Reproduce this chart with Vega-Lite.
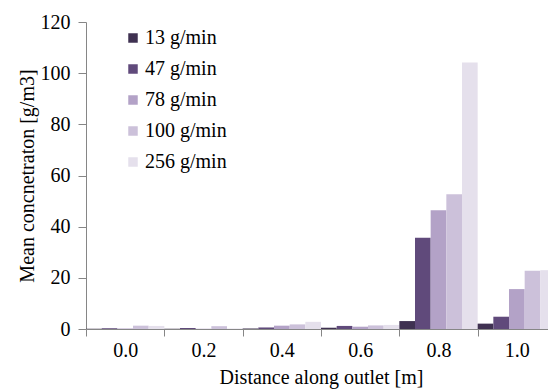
{
  "$schema": "https://vega.github.io/schema/vega-lite/v6.json",
  "autosize": {"type": "none"},
  "width": 462,
  "height": 307,
  "padding": {"left": 86, "top": 22, "right": 0, "bottom": 60},
  "background": "white",
  "config": {
    "view": {"stroke": null},
    "font": "Liberation Serif",
    "axis": {"labelFont": "Liberation Serif", "titleFont": "Liberation Serif", "labelFontSize": 20, "titleFontSize": 20, "labelColor": "#000000", "titleColor": "#000000", "titleFontWeight": "normal", "domainColor": "#868686", "tickColor": "#868686", "grid": false},
    "legend": {"labelFont": "Liberation Serif", "labelFontSize": 20, "labelColor": "#000000"}
  },
  "data": {
    "values": [
      {"distance": "0.0", "rate": "13 g/min", "conc": 0.1},
      {"distance": "0.0", "rate": "47 g/min", "conc": 0.3},
      {"distance": "0.0", "rate": "78 g/min", "conc": 0.2},
      {"distance": "0.0", "rate": "100 g/min", "conc": 1.3},
      {"distance": "0.0", "rate": "256 g/min", "conc": 1.2},
      {"distance": "0.2", "rate": "13 g/min", "conc": 0.1},
      {"distance": "0.2", "rate": "47 g/min", "conc": 0.4},
      {"distance": "0.2", "rate": "78 g/min", "conc": 0.1},
      {"distance": "0.2", "rate": "100 g/min", "conc": 1.1},
      {"distance": "0.2", "rate": "256 g/min", "conc": 0.2},
      {"distance": "0.4", "rate": "13 g/min", "conc": 0.2},
      {"distance": "0.4", "rate": "47 g/min", "conc": 0.6},
      {"distance": "0.4", "rate": "78 g/min", "conc": 1.3},
      {"distance": "0.4", "rate": "100 g/min", "conc": 1.8},
      {"distance": "0.4", "rate": "256 g/min", "conc": 2.8},
      {"distance": "0.6", "rate": "13 g/min", "conc": 0.5},
      {"distance": "0.6", "rate": "47 g/min", "conc": 1.2},
      {"distance": "0.6", "rate": "78 g/min", "conc": 0.9},
      {"distance": "0.6", "rate": "100 g/min", "conc": 1.4},
      {"distance": "0.6", "rate": "256 g/min", "conc": 1.6},
      {"distance": "0.8", "rate": "13 g/min", "conc": 3.1},
      {"distance": "0.8", "rate": "47 g/min", "conc": 35.7},
      {"distance": "0.8", "rate": "78 g/min", "conc": 46.4},
      {"distance": "0.8", "rate": "100 g/min", "conc": 52.7},
      {"distance": "0.8", "rate": "256 g/min", "conc": 104.2},
      {"distance": "1.0", "rate": "13 g/min", "conc": 2.1},
      {"distance": "1.0", "rate": "47 g/min", "conc": 4.8},
      {"distance": "1.0", "rate": "78 g/min", "conc": 15.6},
      {"distance": "1.0", "rate": "100 g/min", "conc": 22.8},
      {"distance": "1.0", "rate": "256 g/min", "conc": 23.0}
    ]
  },
  "mark": {"type": "bar"},
  "encoding": {
    "x": {
      "field": "distance", "type": "ordinal",
      "scale": {"range": [0, 470], "paddingInner": 0, "paddingOuter": 0},
      "axis": {"title": "Distance along outlet [m]", "labelFont": "Liberation Serif", "titleFont": "Liberation Serif", "labelAngle": 0, "tickBand": "extent", "tickSize": 7, "labelPadding": 4, "titlePadding": 7}
    },
    "xOffset": {
      "field": "rate", "type": "nominal",
      "sort": ["13 g/min", "47 g/min", "78 g/min", "100 g/min", "256 g/min"],
      "scale": {"paddingInner": 0, "paddingOuter": 0}
    },
    "y": {
      "field": "conc", "type": "quantitative",
      "scale": {"domain": [0, 120]},
      "axis": {"title": "Mean concnetraton [g/m3]", "labelFont": "Liberation Serif", "titleFont": "Liberation Serif", "values": [0, 20, 40, 60, 80, 100, 120], "tickSize": 8, "labelPadding": 8, "titlePadding": 3}
    },
    "color": {
      "field": "rate", "type": "nominal",
      "sort": ["13 g/min", "47 g/min", "78 g/min", "100 g/min", "256 g/min"],
      "scale": {"domain": ["13 g/min", "47 g/min", "78 g/min", "100 g/min", "256 g/min"], "range": ["#3F3151", "#604A7B", "#B3A2C7", "#CCC1DA", "#E5E0EC"]},
      "legend": {"title": null, "orient": "none", "legendX": 37, "legendY": 6, "symbolType": "square", "symbolSize": 90, "symbolStrokeWidth": 0, "labelFont": "Liberation Serif", "labelFontSize": 20, "labelOffset": 2, "rowPadding": 11, "padding": 0}
    }
  }
}
